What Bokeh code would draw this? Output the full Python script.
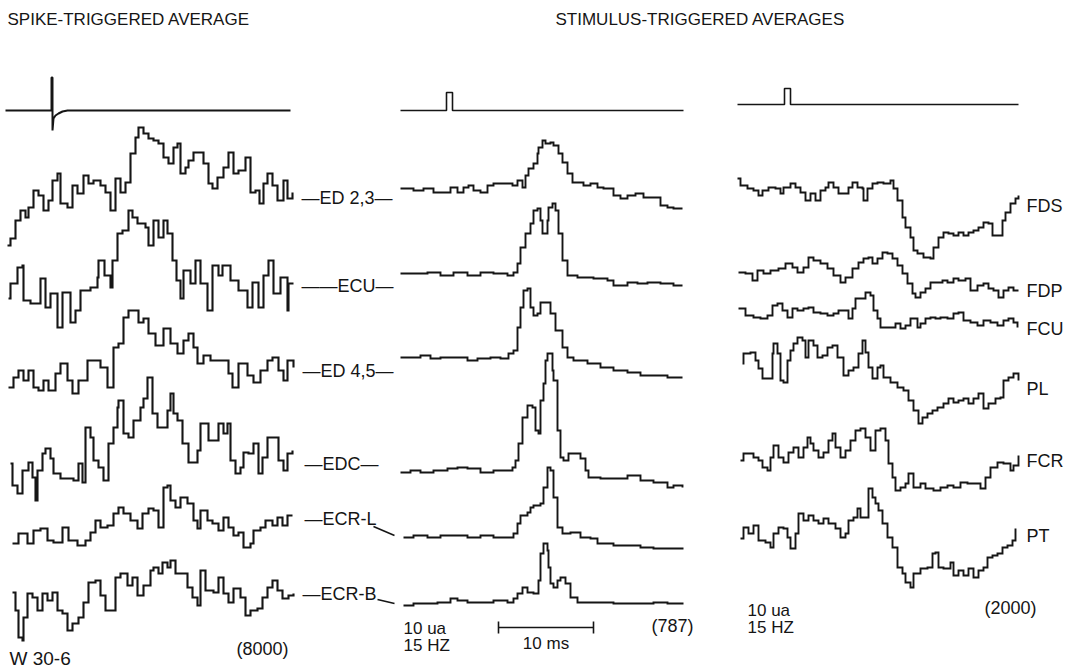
from bokeh.plotting import figure
from bokeh.models import Range1d
from bokeh.core.properties import value
from bokeh.embed import file_html
from bokeh.resources import INLINE

# ---------------- data (time in ~0.1 ms bins from trace start, amplitude in arbitrary units) ----------------
# trigger traces
SPIKE_T = [0, 46, 46, 47, 47, 48, 50, 53, 57, 62, 285]
SPIKE_A = [0, 0, 33, 33, -20, -8, -5, -3, -1, 0, 0]
STIM_M_T = [0, 46, 46, 52, 52, 283]
STIM_M_A = [0, 0, 18, 18, 0, 0]
STIM_R_T = [0, 47, 47, 53, 53, 281]
STIM_R_A = [0, 0, 16, 16, 0, 0]

# spike-triggered averages (left)
ED23_L_T = [7, 10, 15, 20, 25, 28, 33, 38, 43, 48, 52, 57, 60, 67, 72, 77, 83, 88, 93, 100, 105, 110, 115, 120, 125, 130, 135, 138, 143, 148, 153, 158, 163, 168, 173, 177, 180, 185, 188, 193, 200, 203, 208, 212, 217, 223, 228, 233, 238, 245, 250, 255, 259, 263, 267, 272, 277, 283, 287, 292]
ED23_L_A = [-45, -38, -20, -10, -17, -7, 10, 5, -10, 0, 20, 27, -3, -7, 15, 7, 25, 17, 20, 15, 8, -10, 22, 8, 18, 47, 63, 73, 67, 62, 60, 57, 43, 37, 53, 57, 27, 33, 40, 48, 48, 37, 17, 12, 23, 33, 48, 27, 30, 43, 8, 10, -3, 17, 27, 15, 0, 20, 2, 8]
ECU_L_T = [8, 10, 17, 22, 23, 30, 40, 45, 50, 57, 62, 70, 75, 80, 90, 97, 98, 104, 110, 112, 117, 122, 128, 132, 137, 145, 148, 153, 158, 163, 167, 172, 176, 180, 183, 190, 195, 200, 207, 212, 218, 222, 230, 238, 247, 252, 258, 263, 268, 273, 280, 287, 288, 293]
ECU_L_A = [-13, 2, 18, 20, -15, -18, 7, -22, -8, -42, -7, -37, -25, -5, -2, 8, 25, 10, -2, 25, 52, 55, 75, 68, 62, 58, 40, 65, 48, 65, 52, 25, 5, -13, 15, 2, 25, 2, -25, 20, 10, 20, 5, -5, -22, 3, -22, 10, 25, -8, 8, -25, 2, 2]
ED45_L_T = [8, 13, 18, 23, 28, 33, 38, 43, 48, 55, 60, 67, 72, 78, 87, 93, 100, 107, 113, 118, 123, 128, 133, 138, 143, 148, 155, 163, 170, 177, 183, 188, 193, 197, 203, 210, 220, 228, 232, 238, 247, 253, 260, 267, 272, 278, 283, 287, 293]
ED45_L_A = [-17, -7, 0, -10, 0, -17, -20, -10, -20, -3, 7, -10, -23, -10, 10, 10, 3, -17, 23, 27, 53, 60, 60, 48, 52, 37, 25, 42, 27, 17, 30, 37, 23, 7, 15, 10, 10, -3, -17, 7, -5, -12, 0, 10, 13, 0, -10, 10, 3]
EDC_L_T = [10, 12, 17, 22, 28, 32, 35, 37, 42, 45, 50, 53, 60, 73, 78, 82, 85, 90, 93, 98, 103, 108, 113, 117, 118, 123, 128, 133, 140, 143, 147, 152, 157, 163, 167, 170, 173, 177, 182, 188, 193, 197, 200, 205, 208, 213, 218, 223, 227, 230, 235, 240, 243, 248, 253, 258, 262, 267, 272, 278, 283, 287, 292]
EDC_L_A = [2, -20, -28, -5, 3, -12, -35, -5, 12, 17, 7, -8, -13, -15, 2, -17, 38, 28, 5, -2, -15, 22, 38, 58, 65, 32, 28, 45, 58, 67, 88, 52, 38, 38, 55, 72, 52, 45, 22, 3, 3, 15, 42, 42, 25, 25, 42, 32, 42, 5, -8, -2, 13, 12, 22, -8, 8, 28, 28, 5, -5, 12, 15]
ECRL_L_T = [12, 18, 27, 33, 40, 47, 53, 62, 68, 77, 85, 90, 95, 100, 107, 113, 118, 123, 130, 137, 142, 148, 153, 158, 163, 167, 170, 175, 180, 187, 193, 197, 200, 207, 212, 218, 223, 228, 233, 238, 243, 250, 253, 260, 265, 272, 277, 282, 287, 292]
ECRL_L_A = [-23, -13, -23, -10, -8, -20, -22, -7, -20, -25, -20, -12, 0, -7, -5, 7, 13, 7, 0, -8, 7, 12, 10, -7, 33, 35, 20, 13, 23, 17, 0, -8, 10, 0, -3, -10, 3, -7, -15, -12, -27, -23, -10, -7, 0, -5, 3, -5, 5, 5]
ECRB_L_T = [12, 15, 18, 22, 23, 27, 32, 37, 42, 47, 52, 57, 62, 67, 72, 78, 83, 88, 95, 100, 105, 110, 115, 120, 127, 132, 137, 143, 150, 153, 158, 162, 167, 170, 175, 182, 187, 192, 197, 200, 205, 213, 218, 223, 228, 233, 240, 245, 250, 257, 262, 267, 272, 277, 282, 288, 293]
ECRB_L_A = [3, -15, -42, -45, -22, 2, -2, -15, 2, -5, 3, -15, -18, -35, -28, -22, -7, 13, 15, 0, -15, -15, 18, 22, 10, 18, 0, 10, 25, 28, 22, 33, 28, 35, 22, 22, 8, -2, -10, 25, 5, 3, 18, 2, -7, 7, -2, -20, -15, -13, -2, 8, 15, 5, -3, 0, 2]

# stimulus-triggered averages, extensors (middle)
ED23_M_T = [0, 7, 13, 23, 33, 40, 50, 57, 63, 68, 73, 80, 87, 93, 103, 112, 117, 122, 125, 128, 133, 137, 138, 142, 145, 150, 153, 158, 162, 167, 172, 177, 183, 190, 197, 203, 213, 220, 227, 235, 243, 253, 260, 267, 273, 282]
ED23_M_A = [2, 2, 0, 2, -2, -2, 3, -2, 3, 5, 0, -2, 5, 7, 7, 5, 10, 3, 15, 22, 27, 37, 43, 50, 47, 48, 45, 37, 28, 17, 8, 8, 5, 7, 3, 2, -5, -8, -5, -3, -7, -7, -15, -17, -18, -18]
ECU_M_T = [0, 13, 27, 40, 53, 67, 80, 93, 107, 113, 117, 120, 125, 130, 133, 137, 140, 142, 145, 147, 148, 152, 155, 158, 162, 167, 177, 193, 207, 213, 227, 237, 247, 260, 273, 282]
ECU_M_A = [2, 2, 3, 0, 3, 0, 3, 2, 0, 3, 12, 28, 42, 52, 65, 67, 55, 42, 42, 55, 68, 72, 65, 42, 15, 0, -2, -3, -5, -10, -7, -8, -7, -8, -10, -10]
ED45_M_T = [0, 10, 20, 30, 40, 50, 60, 67, 77, 90, 100, 108, 113, 117, 120, 123, 127, 130, 133, 137, 140, 145, 150, 155, 162, 167, 173, 187, 200, 213, 227, 240, 253, 267, 282]
ED45_M_A = [3, 3, 5, 2, 3, 3, 3, 0, 2, 3, 2, 7, 10, 33, 53, 70, 72, 53, 45, 47, 58, 58, 47, 30, 13, 3, 0, -3, -7, -10, -12, -15, -15, -17, -17]
EDC_M_T = [0, 10, 20, 33, 47, 57, 67, 80, 93, 107, 112, 115, 118, 122, 127, 132, 135, 138, 140, 143, 145, 147, 150, 152, 153, 157, 160, 163, 168, 173, 180, 185, 188, 200, 213, 227, 240, 253, 267, 273, 282]
EDC_M_A = [-2, 0, -2, 0, 2, 3, 2, -2, 0, 0, 3, 10, 27, 53, 65, 63, 40, 37, 70, 87, 110, 117, 117, 100, 90, 40, 13, 10, 17, 17, 12, 0, -7, -8, -8, -5, -10, -12, -17, -15, -17]
ECRL_M_T = [3, 13, 27, 40, 53, 67, 80, 93, 107, 113, 117, 120, 127, 130, 133, 140, 143, 147, 150, 153, 157, 162, 170, 180, 190, 197, 213, 227, 240, 253, 267, 283]
ECRL_M_A = [0, 2, 0, 2, 2, 0, 2, 0, 0, 4, 14, 22, 25, 30, 32, 34, 50, 70, 67, 40, 10, 4, 5, 0, -1, -6, -8, -8, -10, -11, -11, -11]
ECRB_M_T = [3, 13, 27, 37, 50, 57, 67, 80, 93, 107, 113, 117, 122, 127, 133, 138, 140, 143, 147, 148, 150, 153, 157, 160, 165, 170, 177, 193, 213, 233, 253, 267, 283]
ECRB_M_A = [-2, 0, 0, 1, 5, 3, 1, 1, 3, 1, 5, 10, 16, 11, 10, 23, 50, 60, 53, 36, 20, 16, 23, 26, 20, 6, 1, 1, 0, 0, 1, 0, 0]

# stimulus-triggered averages, flexors (right)
FDS_T = [0, 3, 10, 16, 21, 25, 31, 38, 43, 46, 53, 58, 63, 68, 73, 78, 83, 88, 91, 96, 101, 106, 111, 115, 120, 125, 126, 130, 135, 140, 146, 153, 156, 160, 165, 168, 173, 176, 180, 186, 193, 196, 201, 206, 211, 216, 221, 226, 231, 236, 241, 246, 251, 255, 260, 265, 268, 273, 278, 281]
FDS_A = [12, 5, 2, 0, -5, 0, 3, 2, -3, 3, 7, 3, -2, -10, -3, -10, 0, 3, 8, 3, -3, -3, 3, 8, 3, 2, -10, 2, 7, 8, 7, 10, 2, -10, -27, -37, -47, -60, -63, -67, -68, -57, -47, -42, -43, -45, -42, -45, -42, -40, -37, -32, -33, -45, -45, -30, -22, -13, -8, -5]
FDP_T = [1, 8, 15, 20, 26, 33, 41, 48, 55, 60, 66, 71, 76, 83, 90, 96, 103, 108, 115, 121, 126, 131, 135, 140, 145, 150, 155, 160, 165, 170, 175, 178, 183, 188, 193, 200, 205, 210, 216, 221, 228, 233, 240, 246, 251, 256, 261, 266, 271, 276, 281]
FDP_A = [-2, -3, -10, 0, -3, 0, 2, 7, 3, -2, 3, 13, 10, 7, 2, -5, -12, -7, 2, 8, 12, 13, 7, 12, 18, 17, 12, 5, -3, -13, -23, -27, -22, -18, -12, -12, -10, -12, -8, -10, -8, -20, -15, -13, -18, -20, -27, -20, -17, -20, -20]
FCU_T = [1, 8, 16, 23, 30, 35, 40, 45, 50, 55, 60, 66, 71, 76, 83, 90, 96, 101, 106, 111, 115, 118, 123, 128, 133, 136, 140, 143, 148, 153, 158, 163, 168, 173, 180, 183, 188, 193, 198, 203, 210, 216, 221, 226, 233, 240, 246, 253, 260, 266, 271, 276, 280]
FCU_A = [2, -5, -7, -8, -5, 5, 7, 0, -7, 2, 0, 2, 3, -2, -3, -5, -3, 0, 0, -8, 2, 12, 12, 18, 15, 0, -8, -17, -17, -17, -13, -18, -15, -8, -17, -13, -8, -7, -8, -7, -8, -3, -2, -10, -12, -15, -10, -12, -15, -10, -8, -12, -17]
PL_T = [5, 6, 13, 18, 21, 25, 30, 35, 36, 40, 43, 46, 50, 53, 56, 60, 65, 68, 71, 76, 80, 85, 90, 95, 100, 106, 111, 116, 121, 125, 128, 131, 135, 140, 143, 146, 153, 160, 166, 171, 176, 181, 185, 190, 195, 200, 206, 211, 216, 221, 226, 231, 236, 241, 246, 251, 258, 263, 266, 271, 276, 281]
PL_A = [-3, 7, 8, 0, -8, -18, -18, 7, 17, 7, -20, -22, 0, 10, 17, 23, 20, 3, 20, 15, 3, 5, 13, 15, 3, -15, -10, -7, 7, 20, 8, -7, -18, -7, -5, -17, -22, -27, -30, -40, -50, -63, -57, -53, -50, -47, -43, -38, -42, -40, -38, -43, -38, -33, -48, -43, -38, -37, -20, -17, -13, -20]
FCR_T = [3, 6, 11, 16, 21, 25, 30, 33, 36, 41, 46, 51, 56, 61, 66, 70, 73, 76, 81, 86, 91, 95, 98, 103, 108, 113, 118, 123, 128, 133, 138, 143, 148, 151, 155, 158, 163, 168, 171, 176, 183, 188, 196, 203, 210, 216, 223, 230, 236, 243, 248, 253, 260, 266, 273, 276, 281]
FCR_A = [0, 7, 7, 3, 0, -7, -10, 3, 15, 3, -2, 8, 13, 3, 13, 23, 17, 10, 3, 8, 20, 27, 13, 3, 10, 20, 30, 32, 23, 10, 30, 32, 20, -3, -17, -30, -27, -23, -13, -27, -23, -28, -30, -27, -25, -27, -22, -23, -23, -28, -17, -7, -2, -3, -10, -5, 5]
PT_T = [3, 6, 11, 16, 21, 28, 33, 36, 41, 46, 50, 53, 58, 61, 66, 71, 76, 81, 86, 91, 98, 103, 108, 111, 116, 120, 123, 128, 131, 135, 138, 141, 145, 150, 155, 160, 165, 168, 173, 176, 183, 190, 195, 198, 201, 206, 213, 216, 221, 226, 231, 236, 241, 246, 250, 255, 260, 265, 270, 275, 278]
PT_A = [-3, 8, 2, 10, -5, -7, -12, 2, 8, 7, -2, -13, 2, 22, 15, 20, 15, 12, 17, 12, 7, -2, 2, 15, 18, 27, 18, 18, 47, 38, 32, 25, 12, -2, -12, -32, -38, -47, -52, -38, -33, -32, -18, -17, -32, -33, -27, -40, -35, -40, -33, -42, -35, -32, -22, -20, -18, -12, -10, -5, 7]

LEFT_NAMES = ["—ED 2,3—", "——ECU—", "—ED 4,5—", "—EDC—", "—ECR-L", "—ECR-B"]
RIGHT_NAMES = ["FDS", "FDP", "FCU", "PL", "FCR", "PT"]
TITLES = ["SPIKE-TRIGGERED AVERAGE", "STIMULUS-TRIGGERED AVERAGES"]
SCALE_MS = 10
N_AVG = ["(8000)", "(787)", "(2000)"]
STIM_TEXT = ["10 ua", "15 HZ"]
CELL = "W 30-6"

# ---------------- layout ----------------
W, H = 1071, 669
PX_PER_MS = 9.5
X0_L, X0_M, X0_R = 0, 400, 737
FONT = value("Liberation Sans")
INK = "#151515"

p = figure(width=W, height=H, x_range=Range1d(0, W), y_range=Range1d(H, 0),
           output_backend="svg", toolbar_location=None,
           x_axis_type=None, y_axis_type=None, min_border=0)
p.grid.visible = False
p.outline_line_color = None
p.background_fill_color = "white"
p.border_fill_color = "white"


def trace(t, a, x0, base, kind="step", lw=1.9):
    xs = [x0 + v for v in t]
    ys = [base - v for v in a]
    if kind == "step":
        p.step(xs, ys, mode="after", line_color=INK, line_width=lw, line_join="miter")
    else:
        p.line(xs, ys, line_color=INK, line_width=lw)


# trigger traces
trace(SPIKE_T, SPIKE_A, 5, 110, "line", 2.0)
trace(STIM_M_T, STIM_M_A, X0_M, 110, "line", 1.6)
trace(STIM_R_T, STIM_R_A, X0_R, 104, "line", 1.6)

left = [(ED23_L_T, ED23_L_A, 200), (ECU_L_T, ECU_L_A, 285), (ED45_L_T, ED45_L_A, 370),
        (EDC_L_T, EDC_L_A, 465), (ECRL_L_T, ECRL_L_A, 520), (ECRB_L_T, ECRB_L_A, 595)]
for t, a, b in left:
    trace(t, a, X0_L, b, "step", 2.1)

mid = [(ED23_M_T, ED23_M_A, 190), (ECU_M_T, ECU_M_A, 275), (ED45_M_T, ED45_M_A, 360),
       (EDC_M_T, EDC_M_A, 470), (ECRL_M_T, ECRL_M_A, 537), (ECRB_M_T, ECRB_M_A, 603)]
for t, a, b in mid:
    trace(t, a, X0_M, b, "step", 1.9)

right = [(FDS_T, FDS_A, 190), (FDP_T, FDP_A, 270), (FCU_T, FCU_A, 310),
         (PL_T, PL_A, 360), (FCR_T, FCR_A, 460), (PT_T, PT_A, 535)]
for t, a, b in right:
    trace(t, a, X0_R, b, "step", 1.9)

# muscle labels
p.text(x=[301, 301, 302, 304, 304, 302], y=[197, 285, 370, 463, 518, 593], text=LEFT_NAMES,
       text_font=FONT, text_font_size="18px", text_baseline="middle", text_align="left",
       text_color=INK)
p.segment(x0=[373, 377], y0=[526, 599], x1=[394, 394], y1=[535, 603], line_color=INK, line_width=1.6)
p.text(x=[1026] * 6, y=[205, 290, 328, 388, 460, 535], text=RIGHT_NAMES,
       text_font=FONT, text_font_size="18px", text_baseline="middle", text_align="left",
       text_color=INK)

# titles
p.text(x=[7, 555], y=[19, 19], text=TITLES, text_font=FONT, text_font_size="17px",
       text_baseline="middle", text_align="left", text_color=INK)

# scale bar (10 ms)
sb_x0 = 498
sb_x1 = sb_x0 + SCALE_MS * PX_PER_MS
p.segment(x0=[sb_x0, sb_x0, sb_x1], y0=[627, 621, 621], x1=[sb_x1, sb_x0, sb_x1], y1=[627, 633, 633],
          line_color=INK, line_width=1.6)
p.text(x=[(sb_x0 + sb_x1) / 2], y=[643], text=[f"{SCALE_MS} ms"], text_font=FONT,
       text_font_size="17px", text_baseline="middle", text_align="center", text_color=INK)

# annotations
p.text(x=[288, 693, 1036], y=[648, 625, 607], text=N_AVG, text_font=FONT, text_font_size="18px",
       text_baseline="middle", text_align="right", text_color=INK)
p.text(x=[403, 403, 747, 747], y=[628, 645, 610, 627], text=STIM_TEXT * 2, text_font=FONT,
       text_font_size="17px", text_baseline="middle", text_align="left", text_color=INK)
p.text(x=[9], y=[658], text=[CELL], text_font=FONT, text_font_size="19px",
       text_baseline="middle", text_align="left", text_color=INK)

open("out.html", "w").write(file_html(p, INLINE))
